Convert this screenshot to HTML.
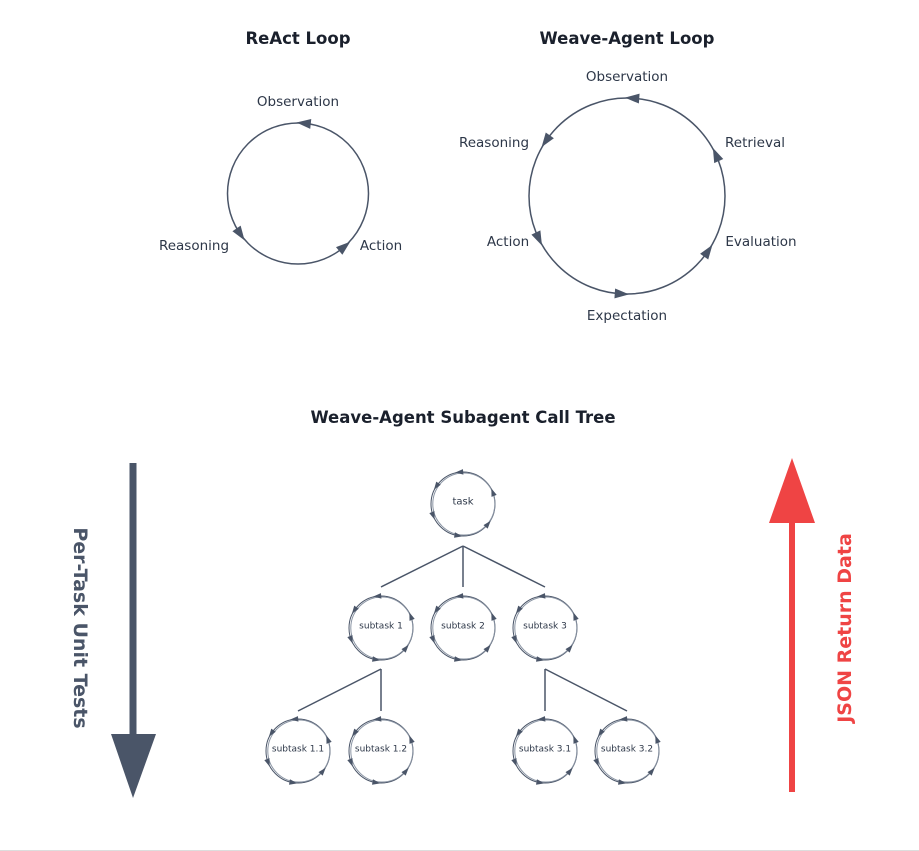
<!DOCTYPE html>
<html><head><meta charset="utf-8"><style>
html,body{margin:0;padding:0;background:#fff;}
svg{display:block;font-family:"DejaVu Sans","Liberation Sans",sans-serif;}
</style></head><body>
<svg id="s" width="919" height="851" viewBox="0 0 919 851" xmlns="http://www.w3.org/2000/svg">
<rect width="919" height="851" fill="#fff"/>
<line x1="0" y1="850.5" x2="919" y2="850.5" stroke="#ddd"/>
<g fill="#1a202c" font-weight="bold" font-size="16.5" text-anchor="middle">
<text x="298" y="44">ReAct Loop</text>
<text x="627" y="44">Weave-Agent Loop</text>
<text x="463" y="423">Weave-Agent Subagent Call Tree</text>
</g>
<g fill="#2d3748" font-size="13.5" text-anchor="middle">
<text x="298" y="106">Observation</text>
<text x="194" y="250">Reasoning</text>
<text x="381" y="250">Action</text>
<text x="627" y="81">Observation</text>
<text x="494" y="147">Reasoning</text>
<text x="755" y="147">Retrieval</text>
<text x="508" y="246">Action</text>
<text x="761" y="246">Evaluation</text>
<text x="627" y="320">Expectation</text>
</g>
<g id="g"></g>
<g stroke="#4a5568" stroke-width="1.5">
<line x1="463" y1="546" x2="381" y2="587"/><line x1="463" y1="546" x2="463" y2="587"/><line x1="463" y1="546" x2="545" y2="587"/>
<line x1="381" y1="669" x2="298" y2="711"/><line x1="381" y1="669" x2="381" y2="711"/>
<line x1="545" y1="669" x2="545" y2="711"/><line x1="545" y1="669" x2="627" y2="711"/>
</g>
<line x1="133" y1="463" x2="133" y2="738" stroke="#4a5568" stroke-width="7"/>
<polygon points="111,734 156,734 133,798" fill="#4a5568"/>
<line x1="792" y1="792" x2="792" y2="518" stroke="#ef4444" stroke-width="6"/>
<polygon points="769,523 815,523 792,458" fill="#ef4444"/>
<text transform="translate(74,628) rotate(90)" text-anchor="middle" font-size="19" font-weight="bold" fill="#4a5568">Per-Task Unit Tests</text>
<text transform="translate(851,628) rotate(-90)" text-anchor="middle" font-size="19" font-weight="bold" fill="#ef4444">JSON Return Data</text>
</svg>
<script>
var g=document.getElementById('g'),NS='http://www.w3.org/2000/svg';
function el(t,a){var e=document.createElementNS(NS,t);for(var k in a)e.setAttribute(k,a[k]);g.appendChild(e);return e;}
function arrow(cx,cy,r,deg,s){var t=deg*Math.PI/180,x=cx+r*Math.cos(t),y=cy+r*Math.sin(t);
var dx=Math.sin(t),dy=-Math.cos(t),nx=Math.cos(t),ny=Math.sin(t);
var p=[[x+dx*s,y+dy*s],[x-dx*s*0.6+nx*s*0.55,y-dy*s*0.6+ny*s*0.55],[x-dx*s*0.6-nx*s*0.55,y-dy*s*0.6-ny*s*0.55]];
el('polygon',{points:p.map(function(q){return q.join(',')}).join(' '),fill:'#4a5568'});}
function loop(cx,cy,r,angs,s){el('circle',{cx:cx,cy:cy,r:r,fill:'none',stroke:'#4a5568','stroke-width':1.5});angs.forEach(function(a){arrow(cx,cy,r,a,s);});}
loop(298,193.5,70.5,[-84,146,50],9);
loop(627,196,98,[-86,-145,-24,155,35,94],9);
function small(cx,cy,label){
el('circle',{cx:cx,cy:cy,r:32,fill:'none',stroke:'#4a5568','stroke-width':1});
el('circle',{cx:cx+0.8,cy:cy,r:31,fill:'none',stroke:'#8a94a3','stroke-width':1});
[-95,-20,40,100,160,-145].forEach(function(a){arrow(cx,cy,32,a,5);});
var t=el('text',{x:cx,y:cy+0.5,'text-anchor':'middle','font-size':label.length>8?9:10,fill:'#2d3748'});t.textContent=label;}
small(463,504,'task');
small(381,628,'subtask 1');small(463,628,'subtask 2');small(545,628,'subtask 3');
small(298,751,'subtask 1.1');small(381,751,'subtask 1.2');small(545,751,'subtask 3.1');small(627,751,'subtask 3.2');
</script>
</body></html>
